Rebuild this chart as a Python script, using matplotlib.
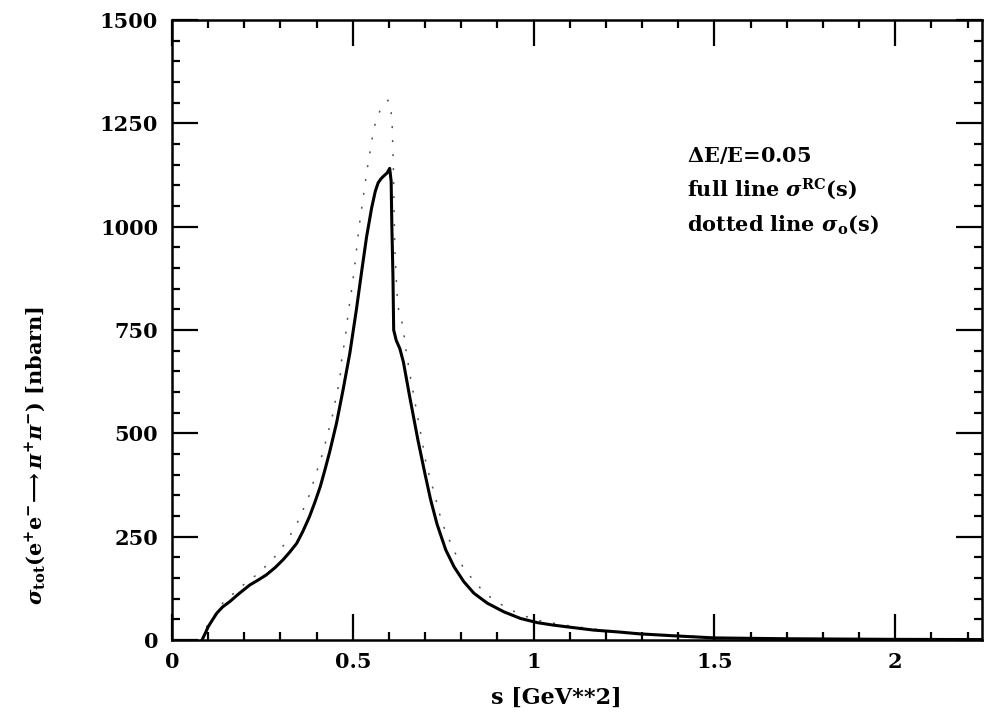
import numpy as np
import matplotlib
matplotlib.use("Agg")
import matplotlib.pyplot as plt
from matplotlib.ticker import MultipleLocator

plt.rcParams['font.family'] = 'DejaVu Serif'
plt.rcParams['mathtext.fontset'] = 'dejavuserif'
plt.rcParams['font.weight'] = 'bold'

# full line: sigma^RC(s)
s_rc = [0.083, 0.094, 0.1, 0.11, 0.124, 0.14, 0.16, 0.185, 0.215, 0.24,
        0.26, 0.285, 0.307, 0.325, 0.345, 0.362, 0.38, 0.395, 0.41, 0.423,
        0.436, 0.455, 0.473, 0.492, 0.51, 0.525, 0.538, 0.552, 0.562, 0.57,
        0.578, 0.586, 0.595, 0.602, 0.606, 0.608, 0.611, 0.613, 0.62, 0.63,
        0.64, 0.657, 0.68, 0.70, 0.715, 0.733, 0.757, 0.78, 0.807, 0.835,
        0.872, 0.918, 0.964, 1.01, 1.054, 1.1, 1.165, 1.24, 1.29, 1.39,
        1.5, 1.7, 2.0, 2.24]
sig_rc = [0, 20, 32, 46, 65, 80, 93, 112, 133, 146,
          157, 175, 194, 212, 234, 263, 298, 333, 371, 412,
          455, 525, 605, 695, 800, 895, 975, 1045, 1085, 1106,
          1116, 1123, 1130, 1141, 1110, 1000, 880, 750, 725, 705,
          672, 590, 484, 400, 340, 280, 218, 177, 141, 113,
          89, 68, 52, 42, 36, 31, 24, 19, 15, 10,
          5, 3, 1.5, 1]

# dotted line: sigma_0(s)
s_0 = [0.083, 0.096, 0.14, 0.197, 0.23, 0.257, 0.285, 0.307, 0.33, 0.349,
       0.365, 0.381, 0.392, 0.404, 0.416, 0.447, 0.453, 0.462, 0.467, 0.47,
       0.478, 0.487, 0.499, 0.508, 0.517, 0.528, 0.539, 0.552, 0.559, 0.57,
       0.585, 0.598, 0.605, 0.609, 0.612, 0.616, 0.622, 0.627, 0.638, 0.648,
       0.661, 0.676, 0.69, 0.704, 0.715, 0.726, 0.736, 0.746, 0.762, 0.778,
       0.796, 0.819, 0.844, 0.872, 0.902, 0.936, 0.975, 1.02, 1.1, 1.2,
       1.3, 1.4, 1.5, 1.7, 2.0, 2.24]
sig_0 = [0, 32, 89, 133, 155, 177, 202, 227, 258, 288,
         320, 353, 385, 418, 450, 554, 586, 621, 653, 689,
         722, 790, 861, 927, 997, 1066, 1135, 1205, 1240, 1272,
         1295, 1306, 1290, 1240, 1150, 950, 840, 797, 762, 695,
         627, 556, 489, 421, 387, 353, 319, 285, 252, 219,
         188, 160, 133, 109, 90, 73, 58, 46, 34, 23,
         16, 11, 6, 3, 1.5, 1]

fig = plt.figure(figsize=(9.84, 7.19), dpi=100)
ax = fig.add_axes([0.1748, 0.1099, 0.8232, 0.8623])

ax.plot(s_0, sig_0, color='#555555', lw=1.2, linestyle=(0, (0.4, 8)),
        dash_capstyle='round')
ax.plot(s_rc, sig_rc, color='black', lw=2.2, solid_joinstyle='round')

ax.set_xlim(0, 2.24)
ax.set_ylim(0, 1500)
ax.xaxis.set_major_locator(MultipleLocator(0.5))
ax.xaxis.set_minor_locator(MultipleLocator(0.1))
ax.yaxis.set_major_locator(MultipleLocator(250))
ax.yaxis.set_minor_locator(MultipleLocator(50))
ax.set_xticks([0, 0.5, 1, 1.5, 2])
ax.set_xticklabels(['0', '0.5', '1', '1.5', '2'])

for sp in ax.spines.values():
    sp.set_linewidth(1.8)
ax.tick_params(which='both', direction='in', top=True, right=True,
               labelsize=15, width=1.6)
ax.tick_params(which='major', length=19)
ax.tick_params(which='minor', length=6)
ax.tick_params(axis='x', pad=9)
ax.tick_params(axis='y', pad=10)

fig.text(0.565, 0.029, 's [GeV**2]', ha='center', va='center',
         fontsize=16, fontweight='bold')
fig.text(0.036, 0.367,
         r'$\boldsymbol{\sigma}_{\mathbf{tot}}(\mathbf{e}^{+}\mathbf{e}^{-}\!\longrightarrow'
         r'\boldsymbol{\pi}^{+}\boldsymbol{\pi}^{-})$ [nbarn]',
         rotation=90, ha='center', va='center', fontsize=15, fontweight='bold')

ax.text(0.698, 0.775, r'$\mathbf{\Delta}$E/E=0.05', transform=fig.transFigure,
        fontsize=15, fontweight='bold')
ax.text(0.698, 0.727, r'full line $\boldsymbol{\sigma}^{\mathbf{RC}}$(s)',
        transform=fig.transFigure, fontsize=15, fontweight='bold')
ax.text(0.698, 0.679, r'dotted line $\boldsymbol{\sigma}_{\mathbf{o}}$(s)',
        transform=fig.transFigure, fontsize=15, fontweight='bold')

fig.savefig('out.png', dpi=100)
